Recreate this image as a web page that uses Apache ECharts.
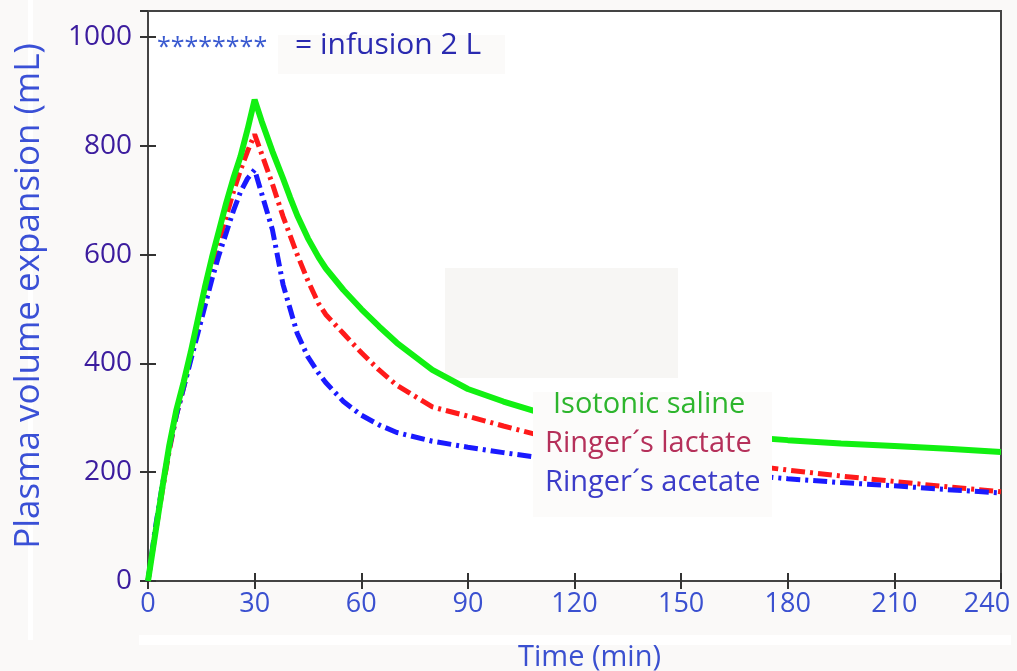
<!DOCTYPE html>
<html>
<head>
<meta charset="utf-8">
<script src="https://cdn.jsdelivr.net/npm/echarts@6/dist/echarts.min.js"></script>
<style>
  html, body { margin: 0; padding: 0; background: #faf9f8; }
  #echartsMain { width: 1017px; height: 671px; }
</style>
</head>
<body>
<div id="echartsMain"></div>
<script>
// time points (min)
var times = [0, 2, 4, 6, 8, 10, 12, 14, 16, 18, 20, 22, 24, 26, 28, 30, 32, 35, 38, 40, 42, 45, 48, 50, 55, 60, 65, 70, 80, 90, 100, 110, 120, 135, 150, 165, 180, 195, 210, 225, 240];
// plasma volume expansion (mL)
var saline  = [0, 85, 170, 250, 315, 365, 420, 480, 540, 595, 645, 695, 740, 780, 830, 885, 845, 790, 740, 705, 672, 630, 595, 575, 535, 500, 468, 438, 388, 353, 330, 310, 298, 284, 274, 266, 259, 253, 248, 243, 237];
var lactate = [0, 85, 165, 240, 305, 355, 410, 465, 520, 575, 625, 670, 715, 755, 790, 821, 785, 730, 670, 635, 600, 552, 510, 490, 455, 420, 388, 360, 320, 303, 285, 268, 255, 242, 230, 216, 204, 193, 183, 173, 164];
var acetate = [0, 95, 175, 245, 305, 355, 405, 455, 505, 555, 600, 640, 680, 715, 740, 756, 712, 646, 545, 500, 455, 412, 382, 365, 330, 305, 287, 273, 257, 246, 236, 227, 220, 212, 205, 197, 188, 181, 175, 168, 162];

var xTicks = [0, 30, 60, 90, 120, 150, 180, 210, 240];
var yTicks = [0, 200, 400, 600, 800, 1000];

function pairs(vals) {
  return times.map(function (t, i) { return [t, vals[i]]; });
}

var myChart = echarts.init(document.getElementById('echartsMain'));

var axisLineStyle = { color: '#444', width: 2 };
var tickStyle = { inside: true, length: 8, lineStyle: { color: '#333', width: 2 } };

var option = {
  backgroundColor: '#faf9f8',
  animation: false,
  grid: {
    left: 148, right: 16, top: 11, bottom: 90,
    outerBoundsMode: 'none',
    containLabel: false,
    show: true,
    backgroundColor: '#ffffff',
    borderColor: '#444',
    borderWidth: 2
  },
  xAxis: [{
    type: 'value',
    min: 0, max: 240, interval: 30,
    name: 'Time (min)',
    nameLocation: 'middle',
    nameGap: 62,
    nameTextStyle: { color: '#3a50d0', fontSize: 29, fontFamily: 'Open Sans', padding: [0, 0, 0, 30] },
    axisLine: { lineStyle: axisLineStyle },
    axisTick: tickStyle,
    axisLabel: {
      color: '#3a50d0', fontSize: 27, margin: 10, fontFamily: 'Open Sans',
      formatter: function (v) {
        if (xTicks.indexOf(v) < 0) return '';
        return v === 240 ? '{last|' + v + '}' : String(v);
      },
      rich: { last: { color: '#3a50d0', fontSize: 27, fontFamily: 'Open Sans', padding: [0, 28, 0, 0] } }
    },
    splitLine: { show: false }
  }, {
    type: 'value',
    position: 'top',
    min: 0, max: 240, interval: 30,
    axisLine: { lineStyle: axisLineStyle },
    axisTick: tickStyle,
    axisLabel: { show: false },
    splitLine: { show: false }
  }],
  yAxis: [{
    type: 'value',
    min: 0, max: 1048, interval: 200,
    name: 'Plasma volume expansion (mL)',
    nameLocation: 'middle',
    nameGap: 101,
    nameRotate: 90,
    nameTextStyle: { color: '#3a50d6', fontSize: 35, fontFamily: 'Open Sans' },
    axisLine: { lineStyle: axisLineStyle },
    axisTick: tickStyle,
    axisLabel: {
      color: '#3b1c9e', fontSize: 28, margin: 16, fontFamily: 'Open Sans',
      showMaxLabel: false,
      formatter: function (v) { return yTicks.indexOf(v) >= 0 ? String(v) : ''; }
    },
    splitLine: { show: false }
  }, {
    type: 'value',
    position: 'right',
    min: 0, max: 1048, interval: 200,
    axisLine: { lineStyle: axisLineStyle },
    axisTick: tickStyle,
    axisLabel: { show: false },
    splitLine: { show: false }
  }],
  series: [{
    name: 'Ringer´s lactate',
    type: 'line',
    showSymbol: false,
    data: pairs(lactate),
    lineStyle: { color: '#ff1a1a', width: 5, type: [14, 5, 3, 5] }
  }, {
    name: 'Ringer´s acetate',
    type: 'line',
    showSymbol: false,
    data: pairs(acetate),
    lineStyle: { color: '#1a1aff', width: 5, type: [14, 5, 3, 5] }
  }, {
    name: 'Isotonic saline',
    type: 'line',
    showSymbol: false,
    data: pairs(saline),
    lineStyle: { color: '#11f011', width: 6 }
  }],
  graphic: [
    { type: 'rect', z: -1, shape: { x: 139, y: 635, width: 872, height: 10 }, style: { fill: '#ffffff' } },
    { type: 'rect', z: -1, shape: { x: 28, y: 0, width: 5, height: 640 }, style: { fill: '#ffffff' } },
    { type: 'rect', z: 1, shape: { x: 445, y: 268, width: 233, height: 110 }, style: { fill: '#f7f6f4' } },
    { type: 'rect', z: 100, shape: { x: 533, y: 392, width: 239, height: 125 }, style: { fill: '#fcfbfa' } },
    { type: 'text', z: 101, left: 553, top: 390, style: { text: 'Isotonic saline', fill: '#2db52d', font: '29px "Open Sans"' } },
    { type: 'text', z: 101, left: 545, top: 429, style: { text: 'Ringer´s lactate', fill: '#b5305a', font: '29px "Open Sans"' } },
    { type: 'text', z: 101, left: 545, top: 468, style: { text: 'Ringer´s acetate', fill: '#3c3cc8', font: '29px "Open Sans"' } },
    { type: 'rect', z: 100, shape: { x: 278, y: 35, width: 227, height: 39 }, style: { fill: '#fbfaf9' } },
    { type: 'text', z: 101, left: 157, top: 35, style: { text: '********', fill: '#3a5ad0', font: '25px "Open Sans"' } },
    { type: 'text', z: 101, left: 295, top: 30, style: { text: '= infusion 2 L', fill: '#2a2ab0', font: '30px "Open Sans"' } }
  ]
};

myChart.setOption(option);
</script>
</body>
</html>
